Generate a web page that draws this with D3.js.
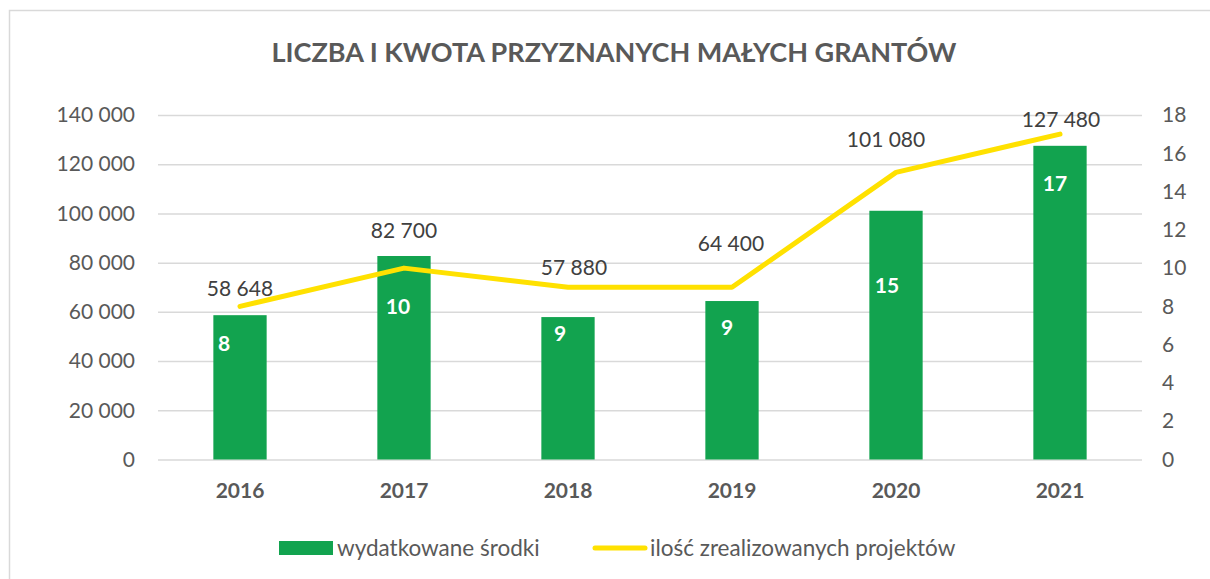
<!DOCTYPE html>
<html>
<head>
<meta charset="utf-8">
<script src="https://cdn.jsdelivr.net/npm/d3@7"></script>
<style>
    body { margin: 0; background: #fff; }
    svg text { font-family: Lato, "Open Sans", sans-serif; }
</style>
</head>
<body>
<div id="chart"></div>
<script>
// Data
const years = ["2016", "2017", "2018", "2019", "2020", "2021"];
const amounts = [58648, 82700, 57880, 64400, 101080, 127480];   // wydatkowane środki
const projects = [8, 10, 9, 9, 15, 17];                         // ilość zrealizowanych projektów
const leftTicks = [0, 20000, 40000, 60000, 80000, 100000, 120000, 140000];
const rightTicks = [0, 2, 4, 6, 8, 10, 12, 14, 16, 18];

// label nudges (px), as placed in the original
const amountLabelDx = [0, 0, 6, -1, -10, 1];
const amountLabelDy = [-10, -30, -12, -36, -25, -7];
const countLabelDx = [-16, -6, -8, -5, -9, -5];
const countLabelDy = [36, 58, 24, 34, 82, 45];

const W = 1210, H = 579;
const margin = { top: 115, right: 68, bottom: 119.5, left: 158 };
const width = W - margin.left - margin.right;
const height = H - margin.top - margin.bottom;

const fmt = d3.formatLocale({ decimal: ",", thousands: " ", grouping: [3], currency: ["", ""] }).format(",d");

const svg = d3.select("#chart").append("svg")
    .attr("width", W)
    .attr("height", H);

// outer frame
svg.append("rect")
    .attr("x", 9.5).attr("y", 10.5)
    .attr("width", W).attr("height", H)
    .attr("fill", "none")
    .attr("stroke", "#d9d9d9")
    .attr("stroke-width", 1.5);

// Title
svg.append("text")
    .attr("x", 614)
    .attr("y", 62)
    .attr("text-anchor", "middle")
    .style("font-size", "27px")
    .style("font-weight", "bold")
    .style("fill", "#595959")
    .text("LICZBA I KWOTA PRZYZNANYCH MAŁYCH GRANTÓW");

const g = svg.append("g").attr("transform", `translate(${margin.left},${margin.top})`);

// Scales
const x = d3.scaleBand().domain(years).range([0, width]).padding(0);
const yL = d3.scaleLinear().domain([0, 140000]).range([height, 0]);
const yR = d3.scaleLinear().domain([0, 18]).range([height, 0]);
const barW = x.bandwidth() * 0.325;

// Gridlines + left axis
const left = g.append("g")
    .call(d3.axisLeft(yL).tickValues(leftTicks).tickSize(-width).tickPadding(23).tickFormat(fmt));
left.select(".domain").remove();
left.selectAll("line").attr("stroke", "#d9d9d9").attr("stroke-width", 1.5);
left.selectAll("text").style("font-size", "21px").style("fill", "#595959");

// Right axis
const right = g.append("g")
    .attr("transform", `translate(${width},0)`)
    .call(d3.axisRight(yR).tickValues(rightTicks).tickSize(0).tickPadding(20));
right.select(".domain").remove();
right.selectAll("text").style("font-size", "21px").style("fill", "#595959");

// Bottom axis
const bottom = g.append("g")
    .attr("transform", `translate(0,${height})`)
    .call(d3.axisBottom(x).tickSize(0).tickPadding(24));
bottom.select(".domain").remove();
bottom.selectAll("text")
    .style("font-size", "21px")
    .style("font-weight", "bold")
    .style("fill", "#595959");

// Bars
g.selectAll(".bar")
    .data(years)
    .enter()
    .append("rect")
    .attr("class", "bar")
    .attr("x", (d, i) => x(d) + x.bandwidth() / 2 - barW / 2)
    .attr("y", (d, i) => yL(amounts[i]))
    .attr("width", barW)
    .attr("height", (d, i) => height - yL(amounts[i]))
    .attr("fill", "#12a34f");

// Line
const line = d3.line()
    .x((d, i) => x(years[i]) + x.bandwidth() / 2)
    .y(d => yR(d));

g.append("path")
    .datum(projects)
    .attr("d", line)
    .attr("fill", "none")
    .attr("stroke", "#ffe100")
    .attr("stroke-width", 5)
    .attr("stroke-linecap", "round")
    .attr("stroke-linejoin", "round");

// Amount labels (above line points)
g.selectAll(".amount-label")
    .data(years)
    .enter()
    .append("text")
    .attr("class", "amount-label")
    .attr("x", (d, i) => x(d) + x.bandwidth() / 2 + amountLabelDx[i])
    .attr("y", (d, i) => yR(projects[i]) + amountLabelDy[i])
    .attr("text-anchor", "middle")
    .style("font-size", "21px")
    .style("fill", "#404040")
    .text((d, i) => fmt(amounts[i]));

// Count labels (inside bars)
g.selectAll(".count-label")
    .data(years)
    .enter()
    .append("text")
    .attr("class", "count-label")
    .attr("x", (d, i) => x(d) + x.bandwidth() / 2 + countLabelDx[i])
    .attr("y", (d, i) => yL(amounts[i]) + countLabelDy[i])
    .attr("text-anchor", "middle")
    .style("font-size", "21px")
    .style("font-weight", "bold")
    .style("fill", "#ffffff")
    .text((d, i) => projects[i]);

// Legend
const legend = svg.append("g").attr("transform", "translate(279,548)");
legend.append("rect")
    .attr("x", 0).attr("y", -7)
    .attr("width", 54).attr("height", 14)
    .attr("fill", "#12a34f");
legend.append("text")
    .attr("x", 58).attr("y", 8)
    .style("font-size", "22.5px")
    .style("fill", "#595959")
    .text("wydatkowane środki");
legend.append("line")
    .attr("x1", 316).attr("x2", 366)
    .attr("y1", 0).attr("y2", 0)
    .attr("stroke", "#ffe100")
    .attr("stroke-width", 5)
    .attr("stroke-linecap", "round");
legend.append("text")
    .attr("x", 371).attr("y", 8)
    .style("font-size", "22.5px")
    .style("fill", "#595959")
    .text("ilość zrealizowanych projektów");
</script>
</body>
</html>
